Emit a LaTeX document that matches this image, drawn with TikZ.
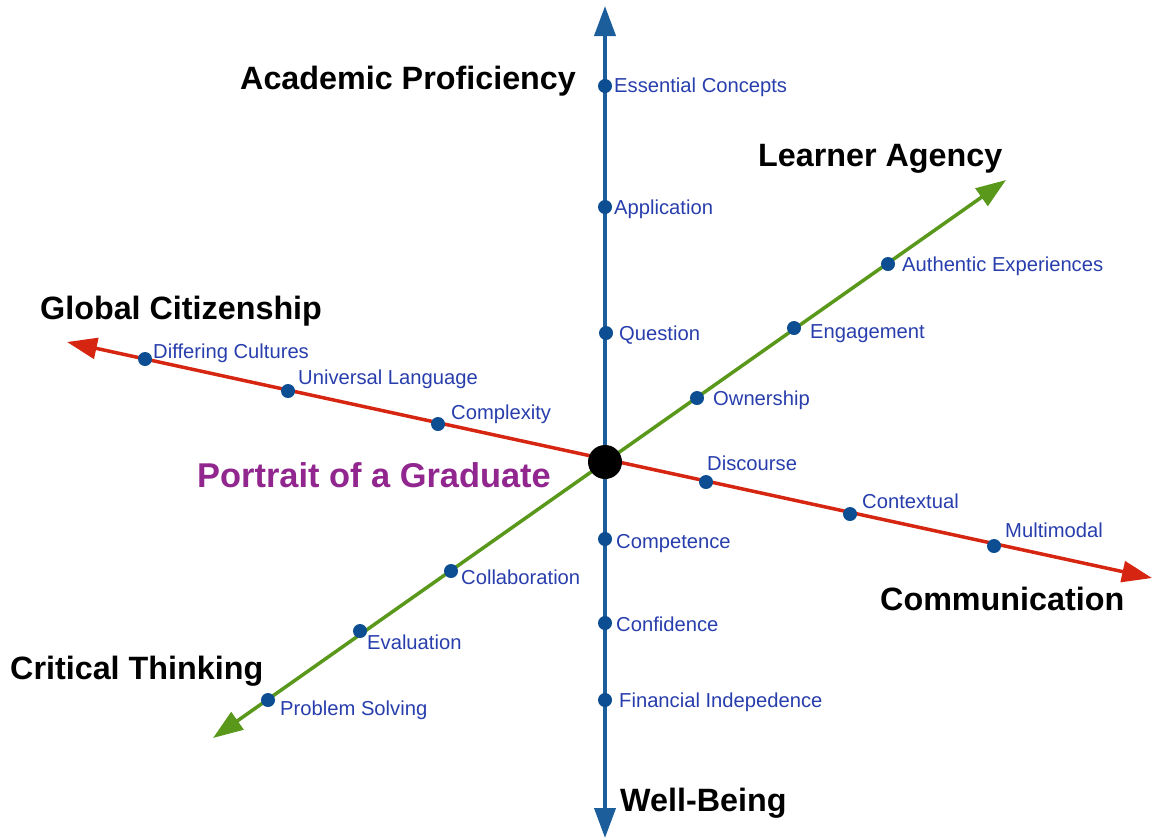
\documentclass[tikz,border=0pt]{standalone}
\usepackage{fontspec}
\setmainfont{Liberation Sans}
\usetikzlibrary{arrows.meta}

\definecolor{axblue}{RGB}{28,94,156}
\definecolor{dotblue}{RGB}{12,78,145}
\definecolor{tagblue}{RGB}{40,62,172}
\definecolor{axred}{RGB}{214,38,18}
\definecolor{axgreen}{RGB}{90,152,28}
\definecolor{gradpurple}{RGB}{145,38,143}

\begin{document}
\begin{tikzpicture}[x=1pt,y=-1pt,
  axisline/.style={line width=4pt,{Triangle[width=21pt,length=30pt]}-{Triangle[width=21pt,length=30pt]}},
  dot/.style={circle,fill=dotblue,inner sep=0pt,minimum size=14pt},
  hub/.style={circle,fill=black,inner sep=0pt,minimum size=34pt},
  tag/.style={anchor=west,inner sep=0pt,text=tagblue,text height=14.5pt,text depth=0pt,
    font=\fontsize{20.2}{23}\selectfont},
  heading/.style={anchor=west,inner sep=0pt,text height=23.3pt,text depth=0pt,
    font=\fontsize{32.3}{36}\selectfont\bfseries}]
  \useasboundingbox (0,0) rectangle (1153,839);

  % axis ends
  \coordinate (acad) at (605,6);
  \coordinate (well) at (605,838);
  \coordinate (glob) at (67,342);
  \coordinate (comm) at (1152,578);
  \coordinate (agency) at (1006,180);
  \coordinate (crit) at (213,738);

  \draw[axisline,axgreen,line width=3.5pt] (crit) -- (agency);
  \draw[axisline,axred,line width=3.5pt] (glob) -- (comm);
  \draw[axisline,axblue] (well) -- (acad);

  \node[hub] (grad) at (605,462) {};

  % vertical axis
  \node[dot] (concepts) at (605,86) {};
  \node[dot] (application) at (605,207) {};
  \node[dot] (question) at (606,333) {};
  \node[dot] (competence) at (605,539) {};
  \node[dot] (confidence) at (605,623) {};
  \node[dot] (financial) at (605,700) {};
  \node[tag] (concepts-t) at (614,85) {Essential Concepts};
  \node[tag] (application-t) at (614,207) {Application};
  \node[tag] (question-t) at (619,333) {Question};
  \node[tag] (competence-t) at (616,541) {Competence};
  \node[tag] (confidence-t) at (616,624) {Confidence};
  \node[tag] (financial-t) at (619,700) {Financial Indepedence};

  % red axis
  \node[dot] (cultures) at (145,359) {};
  \node[dot] (language) at (288,391) {};
  \node[dot] (complexity) at (438,424) {};
  \node[dot] (discourse) at (706,482) {};
  \node[dot] (contextual) at (850,514) {};
  \node[dot] (multimodal) at (994,546) {};
  \node[tag] (cultures-t) at (153,351) {Differing Cultures};
  \node[tag] (language-t) at (298,377) {Universal Language};
  \node[tag] (complexity-t) at (451,412) {Complexity};
  \node[tag] (discourse-t) at (707,463) {Discourse};
  \node[tag] (contextual-t) at (862,501) {Contextual};
  \node[tag] (multimodal-t) at (1005,530) {Multimodal};

  % green axis
  \node[dot] (authentic) at (888,264) {};
  \node[dot] (engagement) at (794,328) {};
  \node[dot] (ownership) at (697,398) {};
  \node[dot] (collaboration) at (451,571) {};
  \node[dot] (evaluation) at (360,631) {};
  \node[dot] (solving) at (268,700) {};
  \node[tag] (authentic-t) at (902,264) {Authentic Experiences};
  \node[tag] (engagement-t) at (810,331) {Engagement};
  \node[tag] (ownership-t) at (713,398) {Ownership};
  \node[tag] (collaboration-t) at (461,577) {Collaboration};
  \node[tag] (evaluation-t) at (367,642) {Evaluation};
  \node[tag] (solving-t) at (280,708) {Problem Solving};

  % headings
  \node[heading] (acad-t) at (240,78) {Academic Proficiency};
  \node[heading] (agency-t) at (758,155) {Learner Agency};
  \node[heading] (glob-t) at (40,308) {Global Citizenship};
  \node[heading] (comm-t) at (880,599) {Communication};
  \node[heading] (crit-t) at (10,668) {Critical Thinking};
  \node[heading] (well-t) at (620,800) {Well-Being};
  \node[heading,text=gradpurple,text height=24.8pt,font=\fontsize{34.4}{38}\selectfont\bfseries]
    (grad-t) at (197,475) {Portrait of a Graduate};
\end{tikzpicture}
\end{document}
